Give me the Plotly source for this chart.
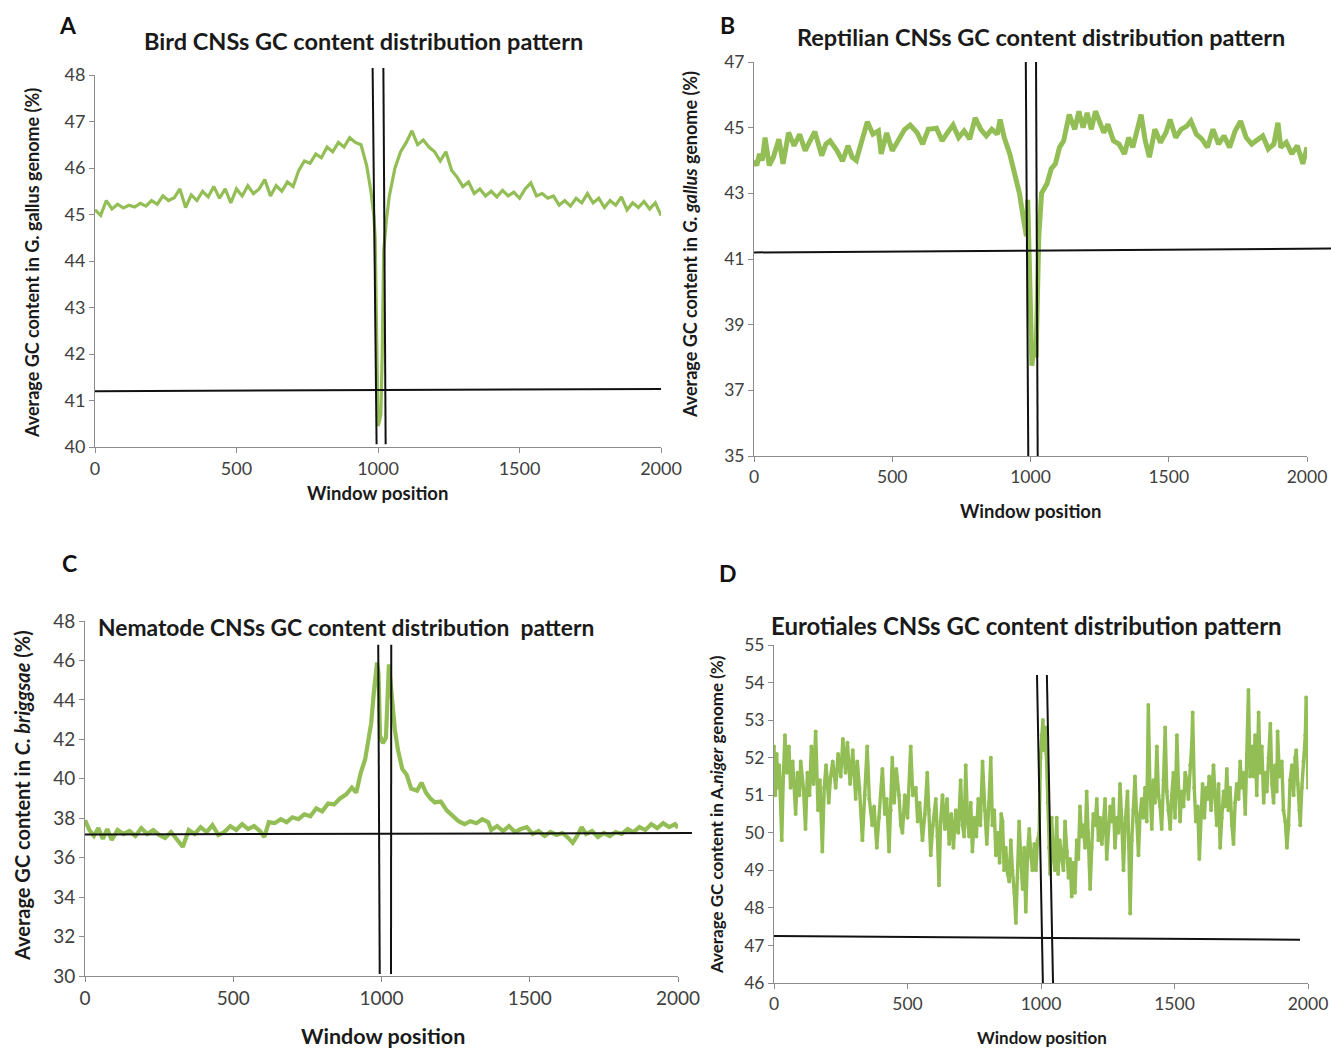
import plotly.graph_objects as go

W, H = 1331, 1050

# ---------------- data ----------------
win_A = [0,20,40,60,80,100,120,140,160,180,200,220,240,260,280,300,320,340,360,380,400,420,440,460,480,500,
         520,540,560,580,600,620,640,660,680,700,720,740,760,780,800,820,840,860,880,900,920,940,960,975,985,990,995,
         1000,1005,1010,1015,1020,1030,1040,1060,1080,1100,1120,1140,1160,1180,1200,1220,1240,1260,1280,1300,1320,1340,
         1360,1380,1400,1420,1440,1460,1480,1500,1520,1540,1560,1580,1600,1620,1640,1660,1680,1700,1720,1740,1760,1780,
         1800,1820,1840,1860,1880,1900,1920,1940,1960,1980,2000]
gc_A = [45.10,44.98,45.30,45.12,45.22,45.14,45.20,45.16,45.24,45.18,45.30,45.22,45.40,45.30,45.36,45.55,45.15,45.42,
        45.30,45.50,45.38,45.60,45.35,45.55,45.25,45.55,45.40,45.62,45.45,45.55,45.75,45.40,45.62,45.50,45.70,45.60,
        45.95,46.15,46.10,46.30,46.22,46.45,46.35,46.55,46.45,46.65,46.55,46.50,46.05,45.50,45.00,44.50,42.50,
        40.45,40.55,40.70,42.00,44.20,44.90,45.40,46.00,46.35,46.55,46.80,46.50,46.60,46.45,46.35,46.15,46.35,45.95,
        45.80,45.60,45.70,45.45,45.55,45.40,45.50,45.38,45.52,45.40,45.48,45.35,45.55,45.68,45.40,45.45,45.35,45.40,
        45.20,45.30,45.18,45.35,45.25,45.45,45.25,45.35,45.15,45.30,45.20,45.38,45.10,45.25,45.15,45.28,45.12,45.25,44.98]

win_B = [0,10,20,30,40,55,70,90,105,125,145,165,185,205,220,245,260,275,300,320,340,355,370,390,410,430,450,460,
         480,500,520,545,565,590,610,630,660,680,700,720,740,760,780,800,820,840,860,880,890,905,925,945,960,975,985,
         990,995,1000,1005,1010,1015,1020,1025,1030,1040,1060,1075,1090,1105,1120,1140,1160,1175,1190,1205,1220,1235,
         1250,1265,1280,1300,1320,1340,1355,1370,1385,1400,1415,1430,1450,1470,1490,1505,1525,1545,1565,1580,1600,
         1620,1640,1660,1680,1700,1720,1740,1760,1780,1800,1820,1840,1860,1880,1895,1905,1925,1945,1965,1985,2000]
gc_B = [44.00,43.85,44.20,44.00,44.70,43.85,44.10,44.65,43.90,44.85,44.45,44.80,44.30,44.60,44.88,44.15,44.50,44.60,
        44.30,43.98,44.45,44.10,44.00,44.60,45.18,44.80,44.90,44.20,44.84,44.30,44.60,44.95,45.08,44.85,44.50,44.95,
        44.98,44.60,44.85,45.08,44.70,44.90,44.65,45.30,44.95,44.75,44.95,44.80,45.25,44.70,44.20,43.50,43.00,42.20,
        41.70,42.80,40.50,38.00,37.75,38.20,38.40,38.00,40.00,41.70,43.00,43.30,43.75,43.90,44.40,44.60,45.40,44.95,
        45.50,45.00,45.45,44.95,45.50,45.20,44.85,45.10,44.60,44.50,44.20,44.70,44.40,44.90,45.40,44.60,44.10,44.95,
        44.55,44.85,45.25,44.70,44.95,45.05,45.20,44.80,44.65,44.40,44.95,44.50,44.75,44.40,44.90,45.20,44.70,44.50,
        44.65,44.75,44.35,44.50,45.15,44.40,44.55,44.20,44.45,43.90,44.40]

win_C = [0,15,30,45,60,75,90,110,130,150,170,190,210,230,250,270,290,310,330,350,370,390,410,430,450,470,490,510,
         530,550,570,590,605,620,640,660,680,700,720,740,760,780,800,820,840,860,880,900,915,930,945,955,965,975,985,
         990,995,1005,1015,1025,1035,1045,1055,1070,1085,1100,1120,1135,1150,1165,1180,1200,1220,1240,1260,1280,1300,
         1320,1340,1360,1370,1390,1410,1430,1450,1470,1490,1510,1530,1550,1570,1590,1610,1630,1645,1660,1675,1690,
         1710,1730,1750,1770,1790,1810,1830,1850,1870,1890,1910,1930,1950,1970,1990,2000]
gc_C = [37.90,37.40,37.10,37.50,36.95,37.45,36.90,37.40,37.20,37.35,37.10,37.50,37.20,37.40,37.15,37.00,37.30,36.90,
        36.55,37.40,37.20,37.55,37.30,37.65,37.15,37.30,37.60,37.40,37.70,37.45,37.60,37.35,37.05,37.80,37.75,37.95,
        37.80,38.05,37.95,38.20,38.10,38.50,38.35,38.75,38.70,39.00,39.20,39.55,39.30,40.30,41.00,41.90,42.80,44.50,
        45.90,45.30,42.20,41.80,42.10,45.80,44.20,42.50,41.50,40.50,40.20,39.50,39.40,39.80,39.30,39.00,38.80,38.85,
        38.40,38.10,37.85,37.70,37.85,37.75,37.95,37.80,37.40,37.60,37.35,37.60,37.30,37.45,37.55,37.20,37.35,37.10,
        37.30,37.15,37.25,37.00,36.75,37.10,37.55,37.20,37.35,37.05,37.25,37.10,37.30,37.20,37.45,37.30,37.55,37.40,
        37.70,37.50,37.75,37.55,37.70,37.50]

win_D = [0,5,10,15,20,29,35,41,48,56,62,70,81,88,95,100,110,118,125,133,140,148,156,165,172,181,188,195,205,212,220,
         231,240,250,258,268,275,285,295,306,312,320,331,340,349,357,368,375,385,393,406,415,422,431,437,443,450,458,
         468,475,481,490,500,512,520,531,538,545,556,565,574,580,587,595,606,612,618,624,631,640,648,656,664,672,681,
         690,699,706,712,718,725,731,737,743,750,758,765,773,781,790,797,805,812,818,825,831,838,845,851,856,862,868,
         875,881,887,893,900,906,912,918,925,931,937,943,950,956,962,968,975,981,987,993,998,1003,1007,1011,1016,1020,
         1025,1030,1034,1040,1046,1052,1059,1064,1070,1077,1084,1090,1097,1103,1109,1115,1121,1127,1134,1140,1146,
         1152,1158,1165,1171,1177,1184,1190,1196,1203,1209,1215,1221,1228,1234,1240,1246,1252,1259,1265,1271,1277,
         1284,1290,1296,1302,1309,1315,1324,1329,1334,1340,1346,1352,1359,1365,1371,1377,1383,1390,1396,1402,1408,
         1415,1421,1427,1434,1440,1446,1452,1459,1465,1471,1477,1484,1490,1496,1502,1509,1515,1521,1527,1534,1540,
         1546,1552,1559,1565,1568,1574,1580,1587,1593,1599,1605,1612,1618,1624,1630,1637,1646,1652,1658,1665,1671,
         1677,1684,1690,1696,1702,1708,1715,1721,1727,1733,1740,1746,1752,1758,1765,1771,1777,1783,1790,1796,1802,
         1808,1815,1821,1827,1834,1840,1846,1852,1859,1865,1871,1877,1883,1886,1893,1902,1908,1915,1921,1927,1933,
         1940,1946,1952,1956,1962,1968,1971,1977,1983,1990,1993,1997,2000]
gc_D = [52.3,51.0,52.1,51.2,51.8,49.8,51.5,52.6,51.6,52.3,51.2,51.9,50.5,51.6,51.0,51.9,51.2,50.1,51.6,51.0,52.3,
        51.3,52.7,50.6,51.4,49.5,51.2,51.8,50.8,51.5,51.9,51.2,52.1,51.5,52.5,51.6,52.4,51.3,52.2,50.9,51.9,51.2,
        49.8,51.0,52.3,50.9,50.2,50.7,49.6,50.4,51.7,50.5,50.9,49.5,50.6,52.0,50.8,51.7,51.0,50.2,50.0,51.0,50.4,
        52.3,51.0,51.2,50.3,50.8,49.8,50.5,51.6,50.6,49.4,50.2,50.9,49.9,48.6,50.3,51.0,50.1,50.9,49.7,50.5,49.6,
        50.6,50.0,51.4,50.2,49.9,51.8,50.3,49.9,50.8,49.5,50.4,49.9,50.9,50.2,51.9,50.6,49.7,50.8,52.0,50.2,50.6,
        49.4,50.0,49.2,50.5,50.3,49.0,49.6,48.9,48.7,49.8,49.0,48.4,47.6,48.8,50.3,49.2,48.5,49.6,47.9,49.5,50.1,
        49.4,49.0,49.7,49.0,49.8,50.0,52.0,52.6,53.0,52.2,52.8,52.1,50.8,49.6,48.9,50.4,49.4,49.0,50.4,48.9,49.8,
        49.4,49.0,50.3,49.5,48.8,49.3,48.3,49.2,48.4,49.8,49.3,50.7,49.9,50.2,49.6,51.1,50.0,48.5,49.6,50.5,50.2,
        50.9,49.8,50.4,49.7,50.3,50.9,49.3,50.1,50.7,50.3,50.9,49.6,50.4,50.0,51.3,50.4,49.0,50.2,51.1,49.6,47.85,
        49.8,50.6,51.5,50.3,49.4,50.5,50.9,50.4,51.2,50.3,53.4,51.2,50.1,51.4,50.8,52.3,51.0,50.7,50.1,51.4,52.8,
        51.1,50.6,50.1,51.0,51.6,50.4,52.6,51.2,50.3,51.1,50.7,51.6,51.4,50.9,51.8,52.4,53.2,51.2,50.3,50.7,49.3,
        50.6,51.3,50.4,51.2,50.9,51.5,50.6,51.8,51.0,50.2,51.3,49.6,50.4,51.1,50.7,51.7,50.6,51.2,50.2,49.7,50.8,
        51.3,50.9,51.9,51.2,51.6,50.5,52.1,53.8,51.5,52.3,51.5,52.6,51.0,53.2,51.6,52.3,50.8,51.6,51.1,52.0,52.9,
        51.3,50.8,51.8,51.1,52.7,51.5,51.9,50.6,50.3,49.6,50.2,51.4,51.8,51.0,52.0,52.2,51.3,50.6,50.2,51.2,51.9,
        52.6,53.6,52.4,51.2]

# reference lines: boundaries (window at top, window at bottom), y-span, horizontal genome average
vlines_A = [(981, 995), (1019, 1027)]; vspan_A = (40.06, 48.15); hline_A = (0, 41.20, 2000, 41.25)
vlines_B = [(983, 992), (1020, 1026)]; vspan_B = (35.0, 47.0); hline_B = (0, 41.20, 2087, 41.32)
vlines_C = [(989, 994), (1033, 1032)]; vspan_C = (30.1, 46.8); hline_C = (0, 37.18, 2047, 37.25)
vlines_D = [(985, 1007), (1022, 1045)]; vspan_D = (46.0, 54.2); hline_D = (0, 47.25, 1970, 47.15)

x_ticks = [0, 500, 1000, 1500, 2000]

titles = ["Bird CNSs GC content distribution pattern",
          "Reptilian CNSs GC content distribution pattern",
          "Nematode CNSs GC content distribution&nbsp; pattern",
          "Eurotiales CNSs GC content distribution pattern"]
ytitles = ["Average GC content in G. gallus genome (%)",
           "Average GC content in <i>G. gallus</i> genome (%)",
           "Average GC content in <i>C. briggsae</i> (%)",
           "Average GC content in A.<i>niger</i> genome (%)"]
letters = ["A", "B", "C", "D"]

# ---------------- layout helpers ----------------
def px(x):
    return x / W

def py(y):
    return 1 - y / H

FONT = "Lato"
GREEN = "#92BE55"
AX = "#8C8C8C"
TXT = "#404040"

# panel boxes in pixels: left, right, top, bottom
boxes = [(95, 661, 75, 447), (754, 1307, 62, 456), (85, 678, 621, 976), (774, 1308, 645, 983)]
yranges = [(40, 48, 1), (35, 47, 2), (30, 48, 2), (46, 55, 1)]
tick_sizes = [18, 17.5, 19, 17.5]
title_sizes = [23.5, 23.5, 22.8, 24]

series = [(win_A, gc_A, 3.2, 0), (win_B, gc_B, 5.0, 0), (win_C, gc_C, 4.2, 0), (win_D, gc_D, 3.4, 4)]
vls = [(vlines_A, vspan_A), (vlines_B, vspan_B), (vlines_C, vspan_C), (vlines_D, vspan_D)]
hls = [hline_A, hline_B, hline_C, hline_D]

fig = go.Figure()
layout = dict(width=W, height=H, margin=dict(l=0, r=0, t=0, b=0, autoexpand=False), paper_bgcolor="white",
              plot_bgcolor="white", showlegend=False, font=dict(family=FONT, color=TXT))
shapes = []
for i in range(4):
    sfx = "" if i == 0 else str(i + 1)
    l, r, t, b = boxes[i]
    y0, y1, dt = yranges[i]
    layout["xaxis" + sfx] = dict(domain=[px(l), px(r)], range=[0, 2000], anchor="y" + sfx, automargin=False,
                                 tickvals=x_ticks, showline=True, linecolor=AX, linewidth=1,
                                 ticks="outside", tickcolor=AX, ticklen=5, showgrid=False, zeroline=False,
                                 tickfont=dict(size=tick_sizes[i], color=TXT, family=FONT))
    layout["yaxis" + sfx] = dict(domain=[py(b), py(t)], range=[y0, y1], anchor="x" + sfx, dtick=dt,
                                 tick0=y0, showline=True, linecolor=AX, linewidth=1, automargin=False,
                                 ticks="outside", tickcolor=AX, ticklen=5, showgrid=False, zeroline=False,
                                 tickfont=dict(size=tick_sizes[i], color=TXT, family=FONT))
    wx, gy, lw, ms = series[i]
    fig.add_trace(go.Scatter(x=wx, y=gy, xaxis="x" + sfx, yaxis="y" + sfx,
                             mode="lines+markers" if ms else "lines",
                             line=dict(color=GREEN, width=lw), marker=dict(size=ms, color=GREEN)))
    # vertical boundary lines
    lines, (vy0, vy1) = vls[i]
    f0 = (vy0 - y0) / (y1 - y0)
    f1 = (vy1 - y0) / (y1 - y0)
    for (xt, xb) in lines:
        shapes.append(dict(type="line", xref="x" + sfx, yref="y" + sfx + " domain",
                           x0=xb, y0=f0, x1=xt, y1=f1, line=dict(color="#111111", width=2)))
    hx0, hy0, hx1, hy1 = hls[i]
    shapes.append(dict(type="line", xref="x" + sfx + " domain", yref="y" + sfx,
                       x0=hx0 / 2000, y0=hy0, x1=hx1 / 2000, y1=hy1, line=dict(color="#111111", width=2)))
layout["shapes"] = shapes

ann = []
# panel letters
for txt, (x, y) in zip(letters, [(68, 25), (728, 25), (69, 563), (728, 573)]):
    ann.append(dict(text="<b>%s</b>" % txt, x=px(x), y=py(y), xref="paper", yref="paper", showarrow=False,
                    font=dict(size=23, color="#111111", family=FONT), xanchor="center", yanchor="middle"))
# chart titles
for txt, (x, y), s in zip(titles, [(363, 41), (1041, 37), (346, 627), (1026, 625)], title_sizes):
    ann.append(dict(text="<b>%s</b>" % txt, x=px(x), y=py(y), xref="paper", yref="paper", showarrow=False,
                    font=dict(size=s, color="#1a1a1a", family=FONT), xanchor="center", yanchor="middle"))
# y titles
for txt, (x, y), s in zip(ytitles, [(32, 263), (690, 245), (22, 796), (716, 815)], [18, 18, 20, 17]):
    ann.append(dict(text="<b>%s</b>" % txt, x=px(x), y=py(y), xref="paper", yref="paper", showarrow=False,
                    textangle=-90, font=dict(size=s, color="#1a1a1a", family=FONT),
                    xanchor="center", yanchor="middle"))
# x titles
for (x, y), s in zip([(378, 493), (1030, 511), (383, 1036), (1042, 1037)], [18.5, 18.5, 21.5, 17]):
    ann.append(dict(text="<b>Window position</b>", x=px(x), y=py(y), xref="paper", yref="paper",
                    showarrow=False, font=dict(size=s, color="#1a1a1a", family=FONT),
                    xanchor="center", yanchor="middle"))
layout["annotations"] = ann

fig.update_layout(**layout)
fig.write_html("out.html")
